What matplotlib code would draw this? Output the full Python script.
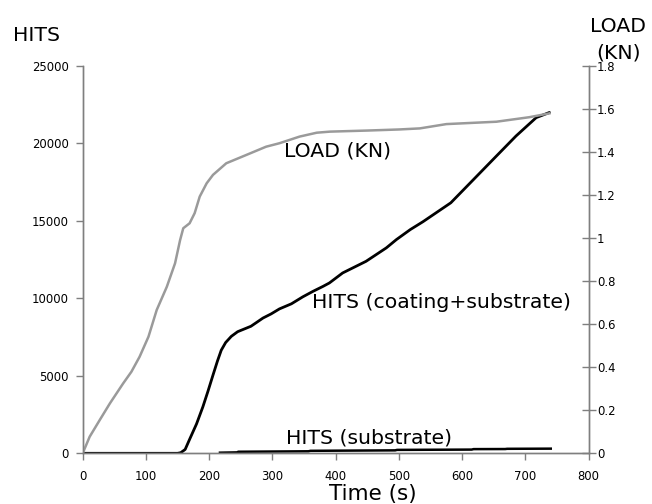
import matplotlib.pyplot as plt
import numpy as np

# load curve (kN) vs time (s)
load_t = [0, 11, 27, 43, 64, 77, 90, 104, 117, 133, 146, 154, 159, 169, 177, 185,
          196, 206, 227, 259, 290, 311, 343, 370, 391, 450, 500, 533, 575, 654, 706, 738]
load_kn = [0, 0.077, 0.155, 0.232, 0.325, 0.379, 0.449, 0.542, 0.666, 0.774, 0.883,
           0.991, 1.046, 1.069, 1.116, 1.193, 1.255, 1.294, 1.348, 1.387, 1.425, 1.441,
           1.472, 1.49, 1.495, 1.50, 1.505, 1.51, 1.53, 1.541, 1.562, 1.58]

# hits, coating + substrate
hits_t = [0, 150, 155, 162, 169, 180, 190, 198, 206, 213, 219, 226, 235, 245, 257,
          266, 275, 285, 298, 311, 330, 348, 364, 380, 390, 411, 448, 480, 496, 518,
          538, 582, 618, 654, 685, 717, 738]
hits_all = [0, 0, 40, 250, 900, 1900, 3000, 4000, 5050, 5950, 6650, 7150, 7550, 7850,
            8050, 8200, 8450, 8730, 9000, 9320, 9650, 10100, 10452, 10776, 10995,
            11642, 12393, 13259, 13796, 14443, 14950, 16170, 17676, 19184, 20478,
            21668, 22000]

# hits, substrate only
sub_t = [217, 244, 246, 357, 360, 494, 497, 615, 618, 668, 671, 740]
sub_hits = [40, 60, 100, 130, 160, 190, 220, 240, 270, 275, 290, 300]

fig = plt.figure(figsize=(6.52, 5.04), dpi=100)
ax = fig.add_axes([82.7 / 652, 1 - 453.3 / 504, (588.7 - 82.7) / 652, (453.3 - 66) / 504])
ax2 = ax.twinx()

spine_col = '#7f7f7f'
for a in (ax, ax2):
    a.spines['top'].set_visible(False)
    for s in a.spines.values():
        s.set_color(spine_col)
        s.set_linewidth(1.0)
    a.set_facecolor('none')

ax.plot(hits_t, hits_all, color='black', lw=2.0, solid_capstyle='round')
ax.plot(sub_t, sub_hits, color='black', lw=1.8)
ax2.plot(load_t, load_kn, color='#9a9a9a', lw=1.8)

ax.set_xlim(0, 800)
ax.set_ylim(0, 25000)
ax2.set_ylim(0, 1.8)
ax.set_xticks(range(0, 801, 100))
ax.set_yticks(range(0, 25001, 5000))
ax2.set_yticks([0, 0.2, 0.4, 0.6, 0.8, 1.0, 1.2, 1.4, 1.6, 1.8])
ax2.set_yticklabels(['0', '0.2', '0.4', '0.6', '0.8', '1', '1.2', '1.4', '1.6', '1.8'])

ax.tick_params(axis='y', direction='out', length=5, width=1, color=spine_col,
               labelsize=8.4, pad=5)
ax.tick_params(axis='x', direction='out', length=5, width=1, color=spine_col,
               labelsize=8.4, pad=7)
ax2.tick_params(axis='y', direction='inout', length=10, width=1, color=spine_col,
                labelsize=8.4, pad=1)

big = dict(family='DejaVu Sans', fontsize=14.7, color='black')
ax.text(319, 19145, 'LOAD (KN)', va='baseline', **big)
ax.text(363, 9379, 'HITS (coating+substrate)', va='baseline', **big)
ax.text(321, 601, 'HITS (substrate)', va='baseline', **big)

fig.text(12.7 / 652, 1 - 40.7 / 504, 'HITS', va='baseline', ha='left', **big)
fig.text(618 / 652, 1 - 31.7 / 504, 'LOAD', va='baseline', ha='center', **big)
fig.text(618 / 652, 1 - 58.3 / 504, '(KN)', va='baseline', ha='center', **big)
fig.text(372.5 / 652, 1 - 500 / 504, 'Time (s)', va='baseline', ha='center',
         family='DejaVu Sans', fontsize=15.5)

fig.savefig('out.png', dpi=100)
